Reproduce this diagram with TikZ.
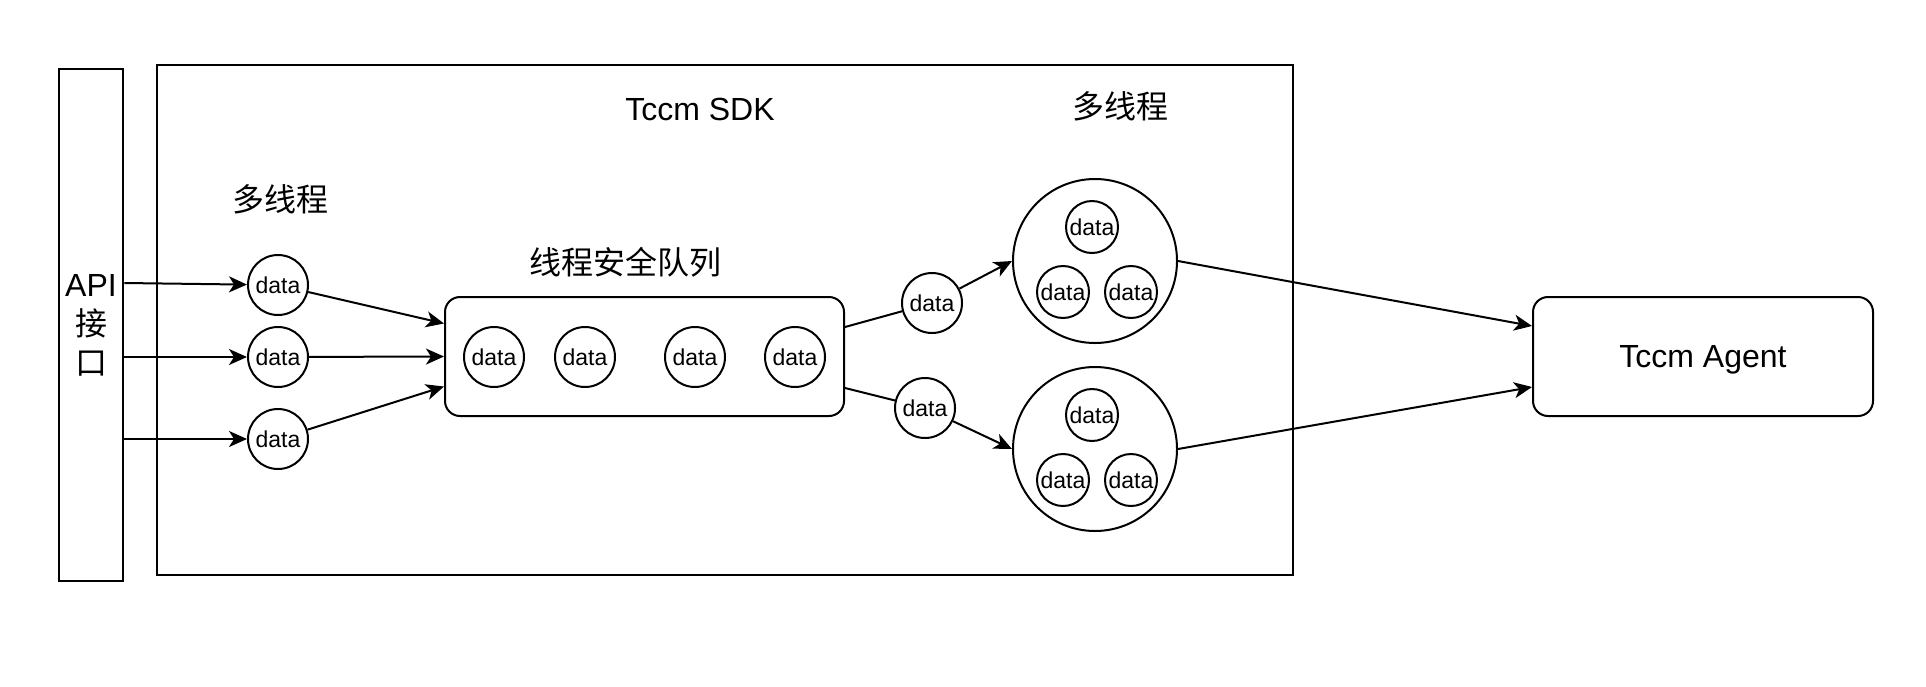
\documentclass[tikz,border=0pt]{standalone}
\usepackage{fontspec}
\setmainfont{Liberation Sans}
\newfontfamily\cjk{Noto Sans CJK SC}
\usetikzlibrary{arrows.meta}
\usetikzlibrary{positioning}

\begin{document}
\begin{tikzpicture}[x=0.5pt,y=-0.5pt,line width=1pt,
  datum/.style={circle,draw,inner sep=0pt,minimum size=30pt,font=\fontsize{11.5}{12}\selectfont},
  smalldatum/.style={datum,minimum size=26pt},
  pool/.style={circle,draw,inner sep=0pt,minimum size=82pt},
  roundbox/.style={draw,rounded corners=7.5pt,minimum width=199.5pt,minimum height=59.5pt},
  big/.style={font=\fontsize{16}{19.5}\selectfont},
  arr/.style={-{Stealth[length=9pt,width=8pt,inset=2.5pt]}}]
  \useasboundingbox (0,0) rectangle (1926,686);

  \node[draw,minimum width=29pt,minimum height=256pt,big,align=center] (api) at (91,325) {API\\{\cjk 接}\\{\cjk 口}};
  \node[draw,minimum width=568pt,minimum height=255pt] (sdk) at (725,320) {};
  \node[big] (sdktitle) at (700,109) {Tccm SDK};
  \node[big] (threadsin) at (280,199) {\cjk 多线程};
  \node[big] (threadsout) at (1120,106) {\cjk 多线程};
  \node[big] (queuetitle) at (625,262) {\cjk 线程安全队列};

  \node[datum] (d1) at (278,285) {data};
  \node[datum] (d2) at (278,357) {data};
  \node[datum] (d3) at (278,439) {data};

  \node[roundbox] (queue) at (644.5,356.5) {};
  \node[datum] (q1) at (494,357) {data};
  \node[datum] (q2) at (585,357) {data};
  \node[datum] (q3) at (695,357) {data};
  \node[datum] (q4) at (795,357) {data};

  \node[datum] (m1) at (932,303) {data};
  \node[datum] (m2) at (925,408) {data};

  \node[pool] (b1) at (1095,261) {};
  \node[smalldatum] (b1a) at (1092,227) {data};
  \node[smalldatum] (b1b) at (1063,292) {data};
  \node[smalldatum] (b1c) at (1131,292) {data};
  \node[pool] (b2) at (1095,449) {};
  \node[smalldatum] (b2a) at (1092,415) {data};
  \node[smalldatum] (b2b) at (1063,480) {data};
  \node[smalldatum] (b2c) at (1131,480) {data};

  \node[roundbox,minimum width=170pt,big,text depth=0pt] (agent) at (1703,356.5) {Tccm Agent};

  \draw[arr] ([yshift=1pt]api.east |- d1) -- (d1);
  \draw[arr] (api.east |- d2) -- (d2);
  \draw[arr] (api.east |- d3) -- (d3);
  \draw[arr] (d1) -- ([yshift=16.5pt]queue.west);
  \draw[arr] (d2) -- (queue.west);
  \draw[arr] (d3) -- ([yshift=-15pt]queue.west);
  \draw ([yshift=14.75pt]queue.east) -- (m1);
  \draw ([yshift=-15.75pt]queue.east) -- (m2);
  \draw[arr] (m1) -- (b1.west);
  \draw[arr] (m2) -- (b2.west);
  \draw[arr] (b1.east) -- ([yshift=15.25pt]agent.west);
  \draw[arr] (b2.east) -- ([yshift=-15.25pt]agent.west);
\end{tikzpicture}
\end{document}
